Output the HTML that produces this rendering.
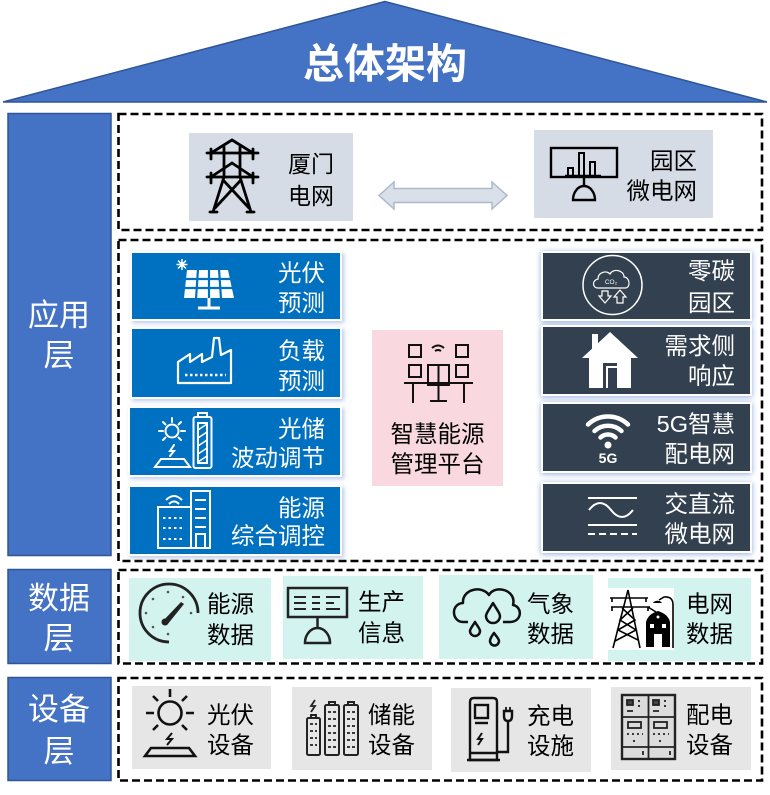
<!DOCTYPE html>
<html><head><meta charset="utf-8"><style>
html,body{margin:0;padding:0;background:#fff;}
svg{display:block;}
text{font-family:"Liberation Sans","Noto Sans CJK SC","WenQuanYi Zen Hei",sans-serif;}
</style></head><body>
<svg width="770" height="795" viewBox="0 0 770 795" xmlns="http://www.w3.org/2000/svg">
<defs>
<filter id="glow" x="-15%" y="-25%" width="130%" height="150%"><feDropShadow dx="0" dy="1" stdDeviation="3" flood-color="#7F9FDB" flood-opacity="0.9"/></filter>
<filter id="sh" x="-10%" y="-20%" width="125%" height="150%"><feDropShadow dx="2" dy="2" stdDeviation="2" flood-color="#9DB3E0" flood-opacity="0.7"/></filter>
</defs>

<!-- roof -->
<polygon points="385,1.5 3,102 767,102" fill="#4472C4" stroke="#2F5597" stroke-width="1.5"/>
<text x="385" y="78" text-anchor="middle" font-size="41" font-weight="bold" fill="#fff">总体架构</text>

<!-- layer labels -->
<rect x="8" y="113.5" width="103" height="442" fill="#4472C4" stroke="#2F5597" stroke-width="1.5"/>
<text x="59" y="326" text-anchor="middle" font-size="31" fill="#fff">应用</text>
<text x="59" y="366" text-anchor="middle" font-size="31" fill="#fff">层</text>
<rect x="8" y="569.5" width="103" height="94" fill="#4472C4" stroke="#2F5597" stroke-width="1.5"/>
<text x="59" y="609" text-anchor="middle" font-size="31" fill="#fff">数据</text>
<text x="59" y="649" text-anchor="middle" font-size="31" fill="#fff">层</text>
<rect x="8" y="677.5" width="103" height="103" fill="#4472C4" stroke="#2F5597" stroke-width="1.5"/>
<text x="59" y="720" text-anchor="middle" font-size="31" fill="#fff">设备</text>
<text x="59" y="762" text-anchor="middle" font-size="31" fill="#fff">层</text>

<!-- dashed containers -->
<g fill="none" stroke="#000" stroke-width="2.6" stroke-dasharray="8 4">
<rect x="118.5" y="114" width="643.5" height="116"/>
<rect x="118.5" y="240" width="643.5" height="321"/>
<rect x="118.5" y="570" width="643.5" height="93.5"/>
<rect x="118.5" y="678" width="643.5" height="102.5"/>
</g>

<!-- top section -->
<rect x="189" y="133" width="164" height="88" fill="#D6DCE5"/>
<g stroke="#000" stroke-width="2.8" fill="none" stroke-linecap="round">
<path d="M232,140 L211,153 M232,140 L253,153 M207,153 H258 M211,149 V159 M253,149 V159"/>
<path d="M224,147 V177 M240,147 V177"/>
<path d="M232,163 L211,177 M232,163 L253,177 M207,177 H258 M211,173 V183 M253,173 V183"/>
<path d="M224,177 L213,212 M240,177 L251,212 M224,181 L249,208 M240,181 L215,208 M210,212 H217 M247,212 H254"/>
</g>
<text x="288" y="172" font-size="23" fill="#000">厦门</text>
<text x="288" y="204" font-size="23" fill="#000">电网</text>

<polygon points="379,195.5 394,182 394,188.5 492,188.5 492,182 507,195.5 492,209 492,202.5 394,202.5 394,209" fill="#DAE0E9" stroke="#ADB9CA" stroke-width="1.5"/>

<rect x="534" y="130" width="179" height="88" fill="#D6DCE5"/>
<g stroke="#000" stroke-width="2.4" fill="none">
<rect x="551" y="148" width="66" height="29"/>
<path d="M565,176 H601"/>
<rect x="568" y="168" width="5" height="8" stroke-width="2"/>
<rect x="579" y="153" width="5" height="23" stroke-width="2"/>
<rect x="590" y="162" width="5" height="14" stroke-width="2"/>
<path d="M584,177 V186 M573,200 A11,14 0 0 1 595,200 Z"/>
</g>
<text x="697" y="169" text-anchor="end" font-size="23.5" fill="#000">园区</text>
<text x="697" y="199" text-anchor="end" font-size="23.5" fill="#000">微电网</text>

<!-- blue boxes -->
<g filter="url(#sh)" fill="#0070C0" stroke="#fff" stroke-width="2">
<rect x="131" y="252" width="210" height="68"/>
<rect x="131" y="328" width="210" height="70"/>
<rect x="129" y="407" width="212" height="69"/>
<rect x="129" y="486" width="212" height="69"/>
</g>
<g fill="#fff" font-size="23.5">
<text x="325" y="281" text-anchor="end">光伏</text>
<text x="325" y="311" text-anchor="end">预测</text>
<text x="325" y="359" text-anchor="end">负载</text>
<text x="325" y="389" text-anchor="end">预测</text>
<text x="325" y="437" text-anchor="end">光储</text>
<text x="325" y="466" text-anchor="end">波动调节</text>
<text x="325" y="516" text-anchor="end">能源</text>
<text x="325" y="544" text-anchor="end">综合调控</text>
</g>
<!-- solar panel icon -->
<g>
<path d="M187,270 H228 L234,298 H184 Z" fill="#fff"/>
<g stroke="#0070C0" stroke-width="2.2">
<path d="M185,279 H232 M185,288 H233"/>
<path d="M198,269 L196,299 M209,269 V299 M219,269 L221,299"/>
</g>
<path d="M209,298 V308 M198,308 H220" stroke="#fff" stroke-width="3"/>
<g stroke="#fff" stroke-width="1.5"><path d="M182,259 V270 M176.5,264.5 H187.5 M178,260.5 L186,268.5 M186,260.5 L178,268.5"/></g>
<circle cx="182" cy="264.5" r="2.5" fill="#fff"/>
</g>
<!-- factory -->
<g stroke="#fff" stroke-width="2.2" fill="none" stroke-linejoin="round">
<path d="M178,383 V362 L190,354 V362 L202,354 V362 L212,357 L214,338 H219 L221,355 L231,350 V383 Z"/>
<path d="M185,375 H226" stroke-dasharray="2.5 2.5" stroke-width="2.5"/>
</g>
<!-- sun + battery -->
<g stroke="#fff" stroke-width="2" fill="none" stroke-linecap="round">
<circle cx="172" cy="431" r="6.5"/>
<path d="M172,418 V422 M159,431 H163 M181,431 H185 M163,422 L165.5,424.5 M181,422 L178.5,424.5 M163,440 L165.5,437.5 M181,440 L178.5,437.5"/>
<path d="M174,445 L170,451 H174 L170,456"/>
<path d="M155,467 L161,459 H184 L190,467 Z"/>
<rect x="193.5" y="417" width="18" height="51" rx="2"/>
<path d="M198,417 V413 H207 V417"/>
<rect x="198" y="423" width="9" height="40"/>
<path d="M198,430 L207,424 M198,438 L207,432 M198,446 L207,440 M198,454 L207,448 M198,462 L207,456" stroke-width="1.5"/>
</g>
<!-- building -->
<g stroke="#fff" stroke-width="2" fill="none">
<rect x="158" y="507" width="33" height="41"/>
<rect x="191" y="491" width="19" height="57"/>
<path d="M195,500 H206 M195,509 H206 M195,518 H206 M195,527 H206"/>
<rect x="196" y="534" width="9" height="14"/>
<path d="M166,500 Q174,492 182,500 M169,504 Q174,499 179,504"/>
<path d="M163,518 H185 M163,528 H185 M163,539 H185" stroke-dasharray="2.5 3"/>
</g>

<!-- pink box -->
<rect x="372" y="330" width="131" height="156" fill="#F9D9DF"/>
<g stroke="#111" stroke-width="2" fill="none">
<rect x="409" y="345" width="12" height="12"/>
<rect x="456" y="345" width="12" height="12"/>
<path d="M432,348 Q438,343 444,348 M435,351 Q438,349 441,351"/>
<rect x="409" y="365" width="12" height="12"/>
<rect x="456" y="365" width="12" height="12"/>
<rect x="428" y="365" width="21" height="20"/>
<path d="M438.5,365 V385"/>
<path d="M404,383 H473 M413,383 V403 M464,383 V403 M438.5,385 V400 M430,401 H447"/>
</g>
<text x="437.5" y="442" text-anchor="middle" font-size="23.5" fill="#000">智慧能源</text>
<text x="437.5" y="472" text-anchor="middle" font-size="23.5" fill="#000">管理平台</text>

<!-- dark boxes -->
<g filter="url(#glow)" fill="#333F50" stroke="#fff" stroke-width="2">
<rect x="542" y="252" width="209" height="68"/>
<rect x="542" y="326" width="209" height="69"/>
<rect x="542" y="403" width="209" height="69"/>
<rect x="542" y="483" width="209" height="69"/>
</g>
<g fill="#fff" font-size="23.5">
<text x="735" y="279" text-anchor="end">零碳</text>
<text x="735" y="311" text-anchor="end">园区</text>
<text x="735" y="354" text-anchor="end">需求侧</text>
<text x="735" y="384" text-anchor="end">响应</text>
<text x="735" y="432" text-anchor="end">5G智慧</text>
<text x="735" y="462" text-anchor="end">配电网</text>
<text x="735" y="512" text-anchor="end">交直流</text>
<text x="735" y="542" text-anchor="end">微电网</text>
</g>
<!-- CO2 icon -->
<g stroke="#fff" stroke-width="1.5" fill="none">
<circle cx="612.5" cy="285" r="29.5"/>
<path d="M598,288 C592,288 592,280 598,279 C598,272 607,270 610,274 C613,268 624,270 624,277 C630,277 631,288 625,288 Z" stroke-width="1.2"/>
<path d="M602,291 V296 H599 L605,303 L611,296 H608 V291 Z" stroke-width="1.2"/>
<path d="M617,303 V297 H614 L620,290 L626,297 H623 V303 Z" stroke-width="1.2"/>
</g>
<text x="611" y="284" text-anchor="middle" font-size="6.5" fill="#fff">CO₂</text>
<!-- house -->
<polygon points="582,358 610,332 638,358 631,358 631,388 589,388 589,358" fill="#fff"/>
<rect x="592" y="334" width="6" height="16" fill="#fff"/>
<rect x="603" y="363" width="14" height="25" fill="#333F50"/>
<rect x="606" y="366" width="11" height="22" fill="#fff"/>
<rect x="608" y="368" width="9" height="20" fill="#333F50"/>
<!-- wifi 5G -->
<g stroke="#fff" stroke-width="4.5" fill="none" stroke-linecap="round">
<path d="M600.5,437.5 A11,11 0 0 1 615.5,437.5"/>
<path d="M594.5,431 A20,20 0 0 1 621.5,431"/>
<path d="M588,424.5 A29,29 0 0 1 628,424.5"/>
</g>
<circle cx="608" cy="445" r="3.5" fill="#fff"/>
<text x="608" y="463" text-anchor="middle" font-size="14" font-weight="bold" fill="#fff">5G</text>
<!-- AC/DC -->
<g stroke="#fff" stroke-width="2" fill="none">
<path d="M588,498 H637"/>
<path d="M589,510 Q600,496 611,510 T633,510"/>
<path d="M588,525 H637"/>
<path d="M588,534 H637" stroke-dasharray="7 4"/>
</g>

<!-- data layer -->
<rect x="129" y="578" width="142" height="83" fill="#D3F3EF"/>
<rect x="283" y="576" width="140" height="83" fill="#D3F3EF"/>
<rect x="439" y="575" width="154" height="84" fill="#D3F3EF"/>
<rect x="608" y="578" width="143" height="83" fill="#D3F3EF"/>
<!-- gauge -->
<g stroke="#222" fill="none" stroke-width="2.8">
<path d="M169,642 A29,29 0 1 1 198,613"/>
</g>
<path d="M162,622 L181,602 L184,604 L167,625 Z" fill="#222"/>
<circle cx="165" cy="622" r="3.5" fill="#222"/>
<g fill="#555">
<circle cx="153" cy="599" r="1.3"/><circle cx="168" cy="592" r="1.3"/><circle cx="183" cy="597" r="1.3"/>
<circle cx="191" cy="613" r="1.3"/><circle cx="153" cy="627" r="1.3"/><circle cx="168" cy="634" r="1.3"/><circle cx="146" cy="613" r="1.3"/>
</g>
<!-- monitor -->
<g stroke="#222" stroke-width="2.5" fill="none">
<rect x="288" y="588" width="59" height="29"/>
<path d="M294,597 H306 M312,597 H320 M326,597 H340 M294,603 H306 M312,603 H320 M326,603 H334 M294,609 H306 M312,609 H320 M326,609 H340" stroke-width="2"/>
<path d="M317.5,617 V627 M305,643 A12.5,15 0 0 1 330,643 Z"/>
</g>
<!-- cloud rain -->
<g stroke="#111" stroke-width="2.5" fill="none" stroke-linejoin="round">
<path d="M468,622 H463 C452,622 450,604 463,603 C462,589 482,585 489,595 C495,584 517,590 513,605 C523,607 522,622 510,622 H503"/>
<path d="M493,603 C489,610 486,613 486,616 A7,7 0 0 0 500,616 C500,613 497,610 493,603 Z"/>
<path d="M475,622 C472,627 470,629 470,631 A5,5 0 0 0 480,631 C480,629 478,627 475,622 Z"/>
<path d="M494,633 C491,637 490,639 490,641 A4.5,4.5 0 0 0 499,641 C499,639 497,637 494,633 Z"/>
</g>
<!-- grid pic -->
<rect x="608" y="588" width="66" height="62" fill="#fff"/>
<g stroke="#000" stroke-width="1.6" fill="none">
<path d="M628,590 L613,648 M628,590 L640,648 M610,598 H648 M611,607 H650 M612,598 V602 M646,598 V602 M612,607 V611 M648,607 V611"/>
<path d="M622,608 L635,620 L618,630 L638,640 M633,608 L620,620 L636,630 L615,641"/>
<path d="M673,648 V605 Q673,596 664,597 L659,600"/>
<path d="M648,607 L656,612"/>
</g>
<path d="M653,603 A5,4 0 0 1 662,603 Z" fill="#000"/>
<path d="M646,647 V622 Q648,614 658,611 Q668,614 670,622 V647 Z" fill="#000"/>
<rect x="654" y="634" width="8" height="13" fill="#fff"/>
<rect x="650" y="624" width="4" height="4" fill="#fff"/>
<rect x="662" y="624" width="4" height="4" fill="#fff"/>
<circle cx="658" cy="617" r="1.5" fill="#fff"/>
<g fill="#000" font-size="23.5">
<text x="207" y="612">能源</text>
<text x="207" y="643">数据</text>
<text x="358" y="610">生产</text>
<text x="358" y="641">信息</text>
<text x="527" y="612">气象</text>
<text x="527" y="642">数据</text>
<text x="686" y="612">电网</text>
<text x="686" y="642">数据</text>
</g>

<!-- device layer -->
<rect x="132" y="686" width="139" height="83" fill="#E6E6E6"/>
<rect x="292" y="687" width="140" height="83" fill="#E6E6E6"/>
<rect x="451" y="688" width="140" height="84" fill="#E6E6E6"/>
<rect x="611" y="687" width="140" height="83" fill="#E6E6E6"/>
<!-- sun device -->
<g stroke="#111" stroke-width="2.6" fill="none" stroke-linecap="butt">
<circle cx="170" cy="713" r="11.5"/>
<path d="M170,689 V697 M146,713 H154 M186,713 H194 M153,696 L158,701 M187,696 L182,701 M153,730 L158,725 M187,730 L182,725"/>
<path d="M145,756 L151,748 H189 L195,756 Z"/>
<path d="M172,733 L167,739 H172 L167,745" stroke-width="2"/>
</g>
<!-- batteries -->
<g stroke="#222" stroke-width="2" fill="none">
<rect x="307" y="718" width="13" height="37" rx="1.5"/>
<path d="M311,718 V715 H316 V718"/>
<rect x="325" y="705" width="14" height="50" rx="1.5"/>
<path d="M329,705 V702 H335 V705"/>
<rect x="344" y="705" width="14" height="50" rx="1.5"/>
<path d="M348,705 V702 H354 V705"/>
<path d="M310,724 H317 M310,731 H317 M310,738 H317 M310,745 H317 M328,712 H336 M328,719 H336 M328,726 H336 M328,733 H336 M328,740 H336 M328,747 H336 M347,712 H355 M347,719 H355 M347,726 H355 M347,733 H355 M347,740 H355 M347,747 H355" stroke-width="1.8" stroke-dasharray="3 2"/>
<path d="M315,700 L311,706 H315 L311,712" stroke-width="1.8"/>
</g>
<!-- charger -->
<g stroke="#111" stroke-width="2.4" fill="none">
<path d="M470,760 V702 Q470,698 474,698 H493 Q497,698 497,702 V760 Z"/>
<path d="M467,760 H500"/>
<rect x="475" y="705" width="13" height="13"/>
<path d="M475,723 H488"/>
<path d="M482,733 L478,739 H482 L478,745" stroke-width="2"/>
<path d="M470,753 H497"/>
<path d="M497,752 H508 V721"/>
<path d="M504,711 H512 V716 Q512,721 508,721 Q504,721 504,716 Z"/>
<path d="M506,711 V707 M510,711 V707" stroke-width="1.8"/>
</g>
<!-- cabinet -->
<rect x="622" y="695" width="53" height="64" fill="#DCDCDC" stroke="#222" stroke-width="2.4"/>
<g stroke="#222" stroke-width="1.8" fill="none">
<path d="M648.5,695 V759 M622,717 H675 M622,747 H675"/>
<rect x="627" y="700" width="6" height="5" fill="#444"/>
<rect x="653" y="700" width="6" height="5" fill="#444"/>
<path d="M627,711 H633 M653,711 H659 M639,700 V702 M639,705 V707 M665,700 V702 M665,705 V707"/>
<rect x="628" y="722" width="13" height="6"/>
<rect x="654" y="722" width="13" height="6"/>
<path d="M627,734 H643 M653,734 H669 M634,740 V742 M660,740 V742" stroke-dasharray="2 3"/>
<path d="M643,751 V755 M670,751 V755"/>
</g>
<g fill="#000" font-size="23.5">
<text x="207" y="723">光伏</text>
<text x="207" y="753">设备</text>
<text x="368" y="723">储能</text>
<text x="368" y="753">设备</text>
<text x="527" y="724">充电</text>
<text x="527" y="754">设施</text>
<text x="686" y="723">配电</text>
<text x="686" y="753">设备</text>
</g>
</svg>
</body></html>
